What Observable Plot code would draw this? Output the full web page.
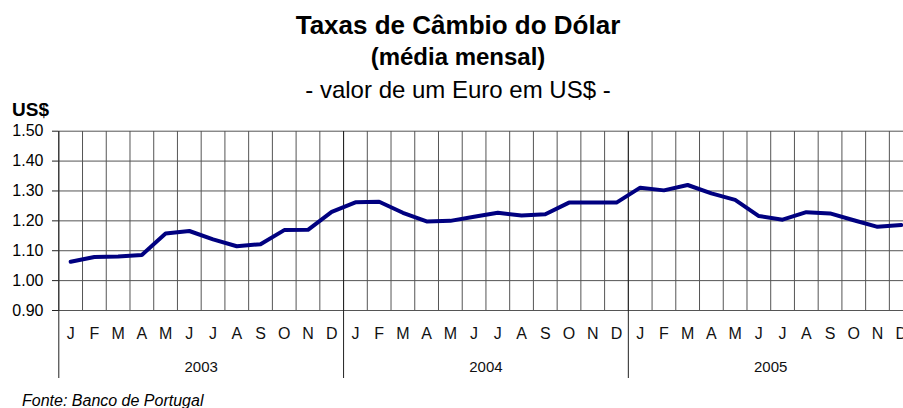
<!DOCTYPE html>
<html><head><meta charset="utf-8">
<script src="https://cdn.jsdelivr.net/npm/d3@7"></script>
<script src="https://cdn.jsdelivr.net/npm/@observablehq/plot@0.6"></script>
<style>
html,body{margin:0;padding:0;background:#fff;overflow:hidden}
#wrap{position:relative;width:903px;height:408px;font-family:"Liberation Sans",Arial,sans-serif;color:#000;overflow:hidden}
#wrap svg{position:absolute;left:0;top:0}
.t{position:absolute;white-space:nowrap;line-height:1;z-index:2}
</style></head><body>
<div id="wrap">
  <div class="t" style="left:458px;top:12px;font-size:26px;font-weight:bold;transform:translateX(-50%)">Taxas de Câmbio do Dólar</div>
  <div class="t" style="left:458px;top:45px;font-size:24px;font-weight:bold;transform:translateX(-50%)">(média mensal)</div>
  <div class="t" style="left:458px;top:78px;font-size:24px;transform:translateX(-50%)">- valor de um Euro em US$ -</div>
  <div class="t" style="left:12px;top:100px;font-size:19px;font-weight:bold">US$</div>
  <div class="t" style="left:22px;top:393px;font-size:16px;font-style:italic">Fonte: Banco de Portugal</div>
</div>
<script>
const months = ["J","F","M","A","M","J","J","A","S","O","N","D"];
const years = ["2003","2004","2005"];
const usd2003 = [1.063, 1.079, 1.081, 1.086, 1.158, 1.166, 1.138, 1.115, 1.122, 1.169, 1.170, 1.230];
const usd2004 = [1.262, 1.264, 1.227, 1.198, 1.200, 1.214, 1.227, 1.218, 1.222, 1.261, 1.261, 1.261];
const usd2005 = [1.311, 1.302, 1.320, 1.292, 1.270, 1.216, 1.204, 1.229, 1.225, 1.202, 1.180, 1.186];
const yTicks = [0.90, 1.00, 1.10, 1.20, 1.30, 1.40, 1.50];

const series = [usd2003, usd2004, usd2005];
const data = years.flatMap((y, yi) => series[yi].map((v, m) => ({pos: yi * 12 + m + 0.5, month: months[m], year: y, value: v})));
const nMonths = years.length * 12;
const boundaries = d3.range(0, nMonths + 1);
const yearBounds = d3.range(0, years.length + 1).map(k => k * 12);
const yearCenters = years.map((y, k) => ({year: y, pos: k * 12 + 6}));

const chart = Plot.plot({
  width: 903, height: 408,
  marginTop: 131, marginBottom: 98, marginLeft: 58, marginRight: 0,
  style: {fontFamily: "'Liberation Sans', Arial, sans-serif", fontSize: "16px", background: "white", color: "black", overflow: "hidden"},
  x: {domain: [0, nMonths], range: [58.3, 912.6], axis: null},
  y: {domain: [0.9, 1.5], range: [310, 130.7]},
  marks: [
    Plot.gridY(yTicks, {stroke: "#555", strokeOpacity: 1}),
    Plot.ruleX(boundaries, {stroke: "#555"}),
    Plot.ruleX(yearBounds, {stroke: "#222", insetBottom: -68}),
    Plot.axisY(yTicks, {tickSize: 6, tickPadding: 9, tickFormat: d3.format(".2f"), fontSize: 16, stroke: "#222", label: null}),
    Plot.text(data, {x: "pos", text: "month", frameAnchor: "bottom", lineAnchor: "middle", dy: 23, fontSize: 16, fill: "#111"}),
    Plot.text(yearCenters, {x: "pos", text: "year", frameAnchor: "bottom", lineAnchor: "middle", dy: 57, fontSize: 15, fill: "#111"}),
    Plot.line(data, {x: "pos", y: "value", stroke: "#000080", strokeWidth: 4})
  ]
});
document.getElementById("wrap").prepend(chart);
</script>
</body></html>
